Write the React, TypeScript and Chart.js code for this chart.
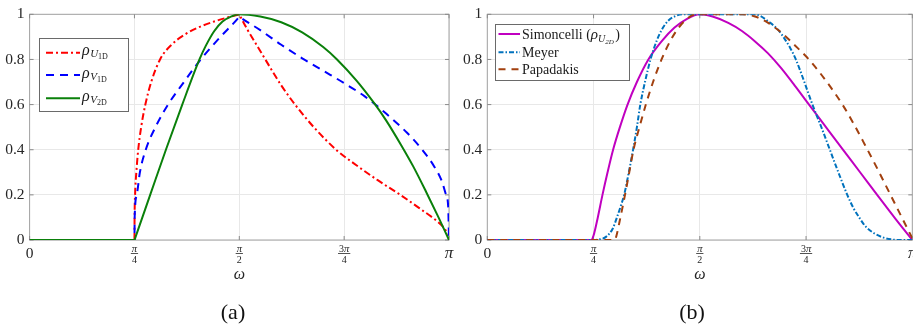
import React, { useEffect, useRef } from "react";
import { Chart, registerables } from "chart.js";
Chart.register(...registerables);

const SERIF = '"Liberation Serif", "Times New Roman", serif';

// x values are ω/π
const X_TICKS = [0, 0.25, 0.5, 0.75, 1];
const X_TICK_NUM = ["0", "π", "π", "3π", "π"];
const X_TICK_DEN = ["", "4", "2", "4", ""];
const Y_TICKS = [0, 0.2, 0.4, 0.6, 0.8, 1];

// ---- panel (a) ----
const rhoU1D_w = [0, 0.25, 0.2503, 0.2515, 0.2545, 0.259, 0.266, 0.276, 0.29, 0.311, 0.34, 0.37, 0.4, 0.44, 0.47, 0.499, 0.5, 0.501, 0.52, 0.546, 0.575, 0.6, 0.633, 0.68, 0.731, 0.78, 0.83, 0.884, 0.93, 0.965, 0.985, 1.0];
const rhoU1D_v = [0, 0, 0.1, 0.2, 0.3, 0.4, 0.5, 0.6, 0.7, 0.8, 0.868, 0.91, 0.94, 0.968, 0.985, 0.9995, 1.0, 0.996, 0.93, 0.85, 0.76, 0.685, 0.6, 0.495, 0.4, 0.33, 0.265, 0.2, 0.14, 0.093, 0.06, 0.022];

const rhoV1D_w = [0, 0.25, 0.2505, 0.2556, 0.263, 0.277, 0.3, 0.33, 0.368, 0.408, 0.455, 0.498, 0.5, 0.502, 0.55, 0.6, 0.65, 0.7, 0.75, 0.8, 0.85, 0.9, 0.936, 0.965, 0.983, 0.993, 0.998, 1.0];
const rhoV1D_v = [0, 0, 0.1, 0.2, 0.3, 0.4, 0.5, 0.6, 0.7, 0.8, 0.9, 0.985, 0.99, 0.987, 0.93, 0.865, 0.805, 0.75, 0.695, 0.635, 0.56, 0.475, 0.4, 0.325, 0.26, 0.2, 0.15, 0];

const rhoV2D_w = [0, 0.25, 0.2525, 0.2875, 0.325, 0.364, 0.405, 0.42, 0.44, 0.46, 0.48, 0.5, 0.55, 0.6, 0.65, 0.7, 0.733, 0.78, 0.822, 0.85, 0.886, 0.915, 0.945, 0.975, 1.0];
const rhoV2D_v = [0, 0, 0.013, 0.2, 0.4, 0.6, 0.8, 0.86, 0.925, 0.968, 0.99, 1.0, 0.99, 0.965, 0.92, 0.855, 0.8, 0.705, 0.605, 0.53, 0.42, 0.325, 0.215, 0.1, 0];

// ---- panel (b) ----
const simon_w = [0, 0.245, 0.25, 0.26, 0.271, 0.283, 0.296, 0.312, 0.33, 0.352, 0.379, 0.41, 0.44, 0.47, 0.5, 0.53, 0.567, 0.6, 0.63, 0.66, 0.69, 0.72, 0.749, 0.785, 0.835, 0.878, 0.92, 0.96, 1.0];
const simon_v = [0, 0, 0.02, 0.1, 0.2, 0.3, 0.4, 0.5, 0.6, 0.7, 0.8, 0.88, 0.94, 0.98, 1.0, 0.99, 0.962, 0.925, 0.88, 0.828, 0.765, 0.693, 0.62, 0.53, 0.405, 0.298, 0.193, 0.095, 0];

const meyer_w = [0, 0.25, 0.265, 0.28, 0.295, 0.305, 0.314, 0.322, 0.333, 0.343, 0.352, 0.36, 0.371, 0.384, 0.398, 0.41, 0.425, 0.44, 0.46, 0.62, 0.64, 0.66, 0.685, 0.7, 0.713, 0.726, 0.746, 0.765, 0.786, 0.806, 0.826, 0.847, 0.862, 0.875, 0.89, 0.91, 0.93, 0.95, 0.97, 1.0];
const meyer_v = [0, 0, 0.003, 0.015, 0.05, 0.1, 0.15, 0.2, 0.3, 0.4, 0.5, 0.6, 0.7, 0.8, 0.88, 0.93, 0.97, 0.99, 1.0, 1.0, 0.995, 0.97, 0.93, 0.89, 0.85, 0.8, 0.7, 0.6, 0.5, 0.4, 0.3, 0.2, 0.14, 0.1, 0.06, 0.03, 0.012, 0.003, 0, 0];

const papa_w = [0, 0.3, 0.304, 0.311, 0.324, 0.334, 0.344, 0.358, 0.373, 0.39, 0.41, 0.43, 0.45, 0.47, 0.49, 0.6, 0.63, 0.66, 0.69, 0.724, 0.759, 0.797, 0.834, 0.862, 0.889, 0.918, 0.946, 0.97, 0.99, 1.0];
const papa_v = [0, 0, 0.02, 0.08, 0.2, 0.3, 0.4, 0.5, 0.6, 0.7, 0.8, 0.88, 0.94, 0.98, 1.0, 1.0, 0.99, 0.963, 0.922, 0.862, 0.795, 0.705, 0.605, 0.515, 0.42, 0.315, 0.21, 0.12, 0.045, 0.008];

type Run = { t: string; f: string; dy: number; gap?: number };
type Series = { w: number[]; v: number[]; color: string; dash: number[]; order: number; runs: Run[] };

const pts = (w: number[], v: number[]) => w.map((x, i) => ({ x, y: v[i] }));

const rhoRuns = (sub: string): Run[] => [
  { t: "ρ", f: `italic 16px ${SERIF}`, dy: 2.5 },
  { t: sub[0], f: `italic 11px ${SERIF}`, dy: 4.6, gap: 0.5 },
  { t: sub.slice(1), f: `8px ${SERIF}`, dy: 6.6 },
];

const seriesA: Series[] = [
  { w: rhoU1D_w, v: rhoU1D_v, color: "#ff0000", dash: [7, 3, 2, 3], order: 3, runs: rhoRuns("U1D") },
  { w: rhoV1D_w, v: rhoV1D_v, color: "#0000ff", dash: [8, 6], order: 2, runs: rhoRuns("V1D") },
  { w: rhoV2D_w, v: rhoV2D_v, color: "#0a800a", dash: [], order: 1, runs: rhoRuns("V2D") },
];

const seriesB: Series[] = [
  {
    w: simon_w, v: simon_v, color: "#c000c0", dash: [], order: 3,
    runs: [
      { t: "Simoncelli (", f: `14px ${SERIF}`, dy: 4.8 },
      { t: "ρ", f: `italic 15px ${SERIF}`, dy: 4.8 },
      { t: "U", f: `italic 10px ${SERIF}`, dy: 7.5 },
      { t: "2D", f: `italic 7px ${SERIF}`, dy: 9.5 },
      { t: ")", f: `14px ${SERIF}`, dy: 4.8, gap: 1.5 },
    ],
  },
  { w: meyer_w, v: meyer_v, color: "#0072bd", dash: [5, 2, 1.5, 2], order: 2, runs: [{ t: "Meyer", f: `14px ${SERIF}`, dy: 4.8 }] },
  { w: papa_w, v: papa_v, color: "#a2400f", dash: [7, 6], order: 1, runs: [{ t: "Papadakis", f: `14px ${SERIF}`, dy: 4.8 }] },
];

type LegendSpec = { box: [number, number, number, number]; sx: [number, number]; tx: number; rows: number[] };
type PanelSpec = {
  left: number; width: number; yWidth: number; padRight: number;
  series: Series[]; legend: LegendSpec; caption: string; captionX: number;
};

const panels: PanelSpec[] = [
  {
    left: 0, width: 460, yWidth: 29.6, padRight: 11, series: seriesA,
    legend: { box: [39.5, 38.5, 128.5, 111.5], sx: [46, 80], tx: 82, rows: [52.7, 75, 98.3] },
    caption: "(a)", captionX: 233,
  },
  {
    left: 460, width: 470, yWidth: 27.3, padRight: 17.7, series: seriesB,
    legend: { box: [35.5, 24.5, 169.5, 80.5], sx: [38.5, 60], tx: 62, rows: [34, 52.3, 69.3] },
    caption: "(b)", captionX: 232,
  },
];

function drawRuns(ctx: CanvasRenderingContext2D, runs: Run[], x: number, y: number) {
  let cx = x;
  for (const r of runs) {
    cx += r.gap || 0;
    ctx.font = r.f;
    ctx.fillText(r.t, cx, y + r.dy);
    cx += ctx.measureText(r.t).width;
  }
}

function makePlugin(spec: PanelSpec) {
  return {
    id: "frame" + spec.caption,
    beforeDatasetsDraw(chart: any) {
      const { ctx, chartArea: a, scales } = chart;
      ctx.save();
      ctx.strokeStyle = "#a3a3a3";
      ctx.lineWidth = 1;
      ctx.strokeRect(a.left, a.top, a.right - a.left, a.bottom - a.top);
      ctx.strokeStyle = "#8a8a8a";
      ctx.beginPath();
      for (const t of X_TICKS) {
        const x = scales.x.getPixelForValue(t);
        ctx.moveTo(x, a.bottom); ctx.lineTo(x, a.bottom - 4);
        ctx.moveTo(x, a.top); ctx.lineTo(x, a.top + 4);
      }
      for (const v of Y_TICKS) {
        const y = scales.y.getPixelForValue(v);
        ctx.moveTo(a.left, y); ctx.lineTo(a.left + 4, y);
        ctx.moveTo(a.right, y); ctx.lineTo(a.right - 4, y);
      }
      ctx.stroke();
      ctx.restore();
    },
    afterDraw(chart: any) {
      const { ctx, chartArea: a, scales } = chart;
      ctx.save();
      ctx.fillStyle = "#262626";
      ctx.textBaseline = "alphabetic";
      // x tick labels
      X_TICKS.forEach((t, i) => {
        const x = scales.x.getPixelForValue(t);
        const num = X_TICK_NUM[i];
        const den = X_TICK_DEN[i];
        if (!den) {
          ctx.textAlign = "center";
          ctx.font = num === "π" ? `italic 17px ${SERIF}` : `15.5px ${SERIF}`;
          ctx.fillText(num, x, 258.3);
        } else {
          ctx.textAlign = "left";
          const parts = num.length > 1 ? [{ t: num[0], f: `10px ${SERIF}` }, { t: num.slice(1), f: `italic 10.5px ${SERIF}` }] : [{ t: num, f: `italic 10.5px ${SERIF}` }];
          let total = 0;
          for (const p of parts) { ctx.font = p.f; total += ctx.measureText(p.t).width; }
          let cx = x - total / 2;
          for (const p of parts) { ctx.font = p.f; ctx.fillText(p.t, cx, 251.7); cx += ctx.measureText(p.t).width; }
          ctx.fillRect(x - total / 2 - 1, 253.1, total + 2, 0.8);
          ctx.textAlign = "center";
          ctx.font = `10px ${SERIF}`;
          ctx.fillText(den, x, 262.5);
        }
      });
      // axis title
      ctx.textAlign = "center";
      ctx.font = `italic 16px ${SERIF}`;
      ctx.fillText("ω", (a.left + a.right) / 2, 279);
      // caption
      ctx.fillStyle = "#111";
      ctx.font = `22px ${SERIF}`;
      ctx.fillText(spec.caption, spec.captionX, 318.5);
      // legend
      const L = spec.legend;
      ctx.fillStyle = "#ffffff";
      ctx.fillRect(L.box[0], L.box[1], L.box[2] - L.box[0], L.box[3] - L.box[1]);
      ctx.strokeStyle = "#6a6a6a";
      ctx.lineWidth = 1;
      ctx.strokeRect(L.box[0], L.box[1], L.box[2] - L.box[0], L.box[3] - L.box[1]);
      spec.series.forEach((s, i) => {
        const y = L.rows[i];
        ctx.strokeStyle = s.color;
        ctx.lineWidth = 2;
        ctx.setLineDash(s.dash);
        ctx.beginPath();
        ctx.moveTo(L.sx[0], y);
        ctx.lineTo(L.sx[1], y);
        ctx.stroke();
        ctx.setLineDash([]);
        ctx.fillStyle = "#1a1a1a";
        ctx.textAlign = "left";
        drawRuns(ctx, s.runs, L.tx, y);
      });
      ctx.restore();
    },
  };
}

function Panel({ spec }: { spec: PanelSpec }) {
  const ref = useRef<HTMLCanvasElement>(null);
  useEffect(() => {
    if (!ref.current) return;
    const chart = new Chart(ref.current, {
      type: "line",
      data: {
        datasets: spec.series.map((s) => ({
          data: pts(s.w, s.v),
          borderColor: s.color,
          borderWidth: 2,
          borderDash: s.dash,
          pointRadius: 0,
          fill: false,
          cubicInterpolationMode: "monotone" as const,
          order: s.order,
        })),
      },
      options: {
        responsive: false,
        animation: false,
        layout: { padding: { top: 11, right: spec.padRight, left: 0, bottom: 0 } },
        plugins: { legend: { display: false }, tooltip: { enabled: false } },
        scales: {
          x: {
            type: "linear",
            min: 0,
            max: 1,
            afterBuildTicks: (scale: any) => { scale.ticks = X_TICKS.map((v) => ({ value: v })); },
            ticks: { display: false },
            grid: { color: "#e8e8e8", drawTicks: false, lineWidth: 1 },
            border: { display: false },
            afterFit: (scale: any) => { scale.height = 88; },
          },
          y: {
            type: "linear",
            min: 0,
            max: 1,
            afterBuildTicks: (scale: any) => { scale.ticks = Y_TICKS.map((v) => ({ value: v })); },
            ticks: {
              padding: 5,
              color: "#262626",
              font: { family: SERIF, size: 15.5 },
              callback: (v: any) => String(Math.round(Number(v) * 10) / 10),
            },
            grid: { color: "#e8e8e8", drawTicks: false, lineWidth: 1 },
            border: { display: false },
            afterFit: (scale: any) => { scale.width = spec.yWidth; },
          },
        },
      },
      plugins: [makePlugin(spec)],
    } as any);
    return () => chart.destroy();
  }, [spec]);
  return (
    <canvas
      ref={ref}
      width={spec.width}
      height={328}
      style={{ position: "absolute", left: spec.left, top: 0, width: spec.width, height: 328 }}
    />
  );
}

export default function App() {
  return (
    <div style={{ position: "absolute", left: 0, top: 0, width: 913, height: 328, overflow: "hidden", background: "#fff" }}>
      {panels.map((p) => (
        <Panel key={p.caption} spec={p} />
      ))}
    </div>
  );
}
